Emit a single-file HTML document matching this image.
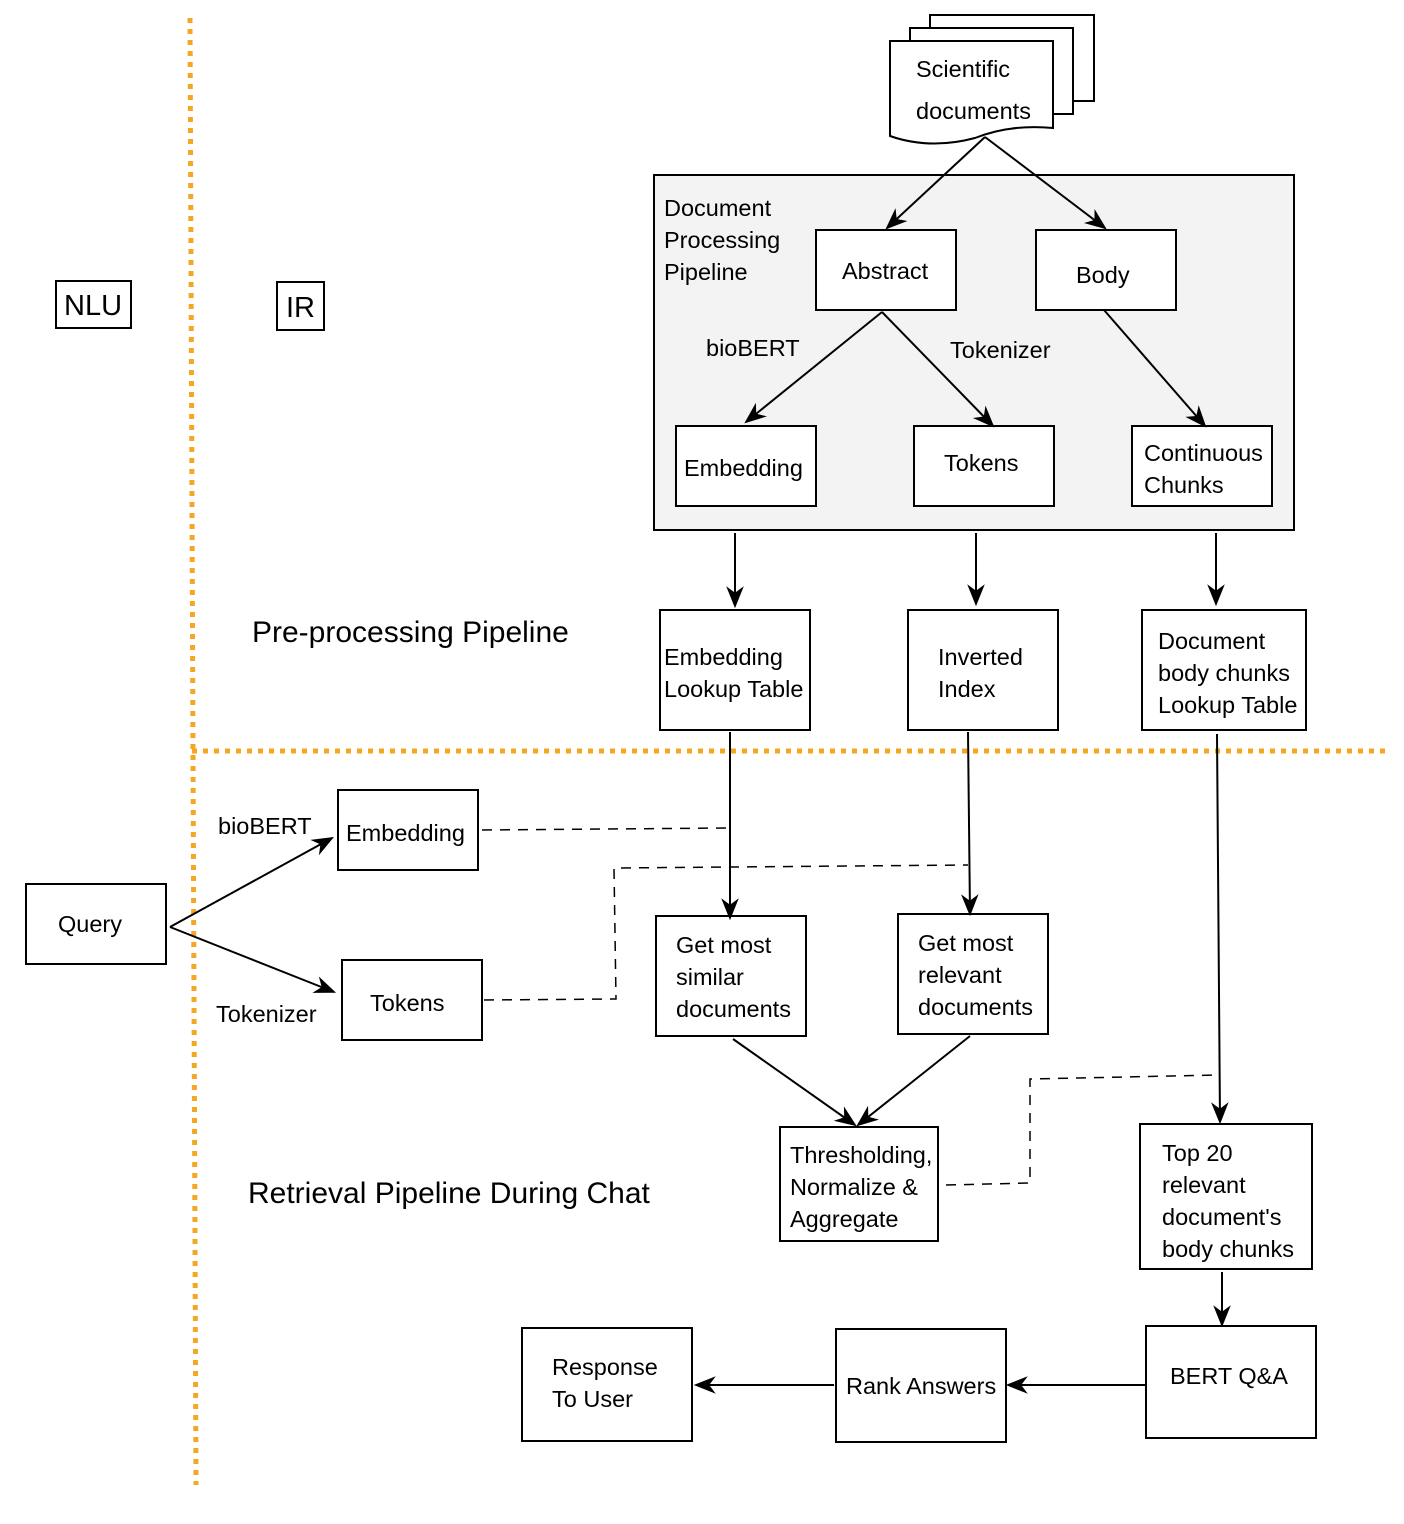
<!DOCTYPE html>
<html><head><meta charset="utf-8"><style>
html,body{margin:0;padding:0;background:#fff;}
svg{display:block;}
text{font-family:"Liberation Sans",Arial,sans-serif;font-size:23.5px;fill:#000;}
</style></head><body>
<svg width="1404" height="1524" viewBox="0 0 1404 1524" xmlns="http://www.w3.org/2000/svg">
<defs>
<marker id="b" viewBox="0 0 20 20" refX="18" refY="10" markerWidth="22" markerHeight="22" orient="auto" markerUnits="userSpaceOnUse">
<path d="M0,2 L20,10 L0,18 L6,10 Z" fill="#000"/>
</marker>
</defs>
<line x1="190" y1="18" x2="196" y2="1485" stroke="#F5A623" stroke-width="5" stroke-dasharray="5 6"/>
<line x1="192" y1="751" x2="1385" y2="751" stroke="#F5A623" stroke-width="5" stroke-dasharray="5 6"/>

<g fill="#fff" stroke="#000" stroke-width="2">
<rect x="56" y="281" width="75" height="47"/>
<rect x="277" y="282" width="47" height="48"/>
<rect x="930" y="15" width="164" height="86"/>
<rect x="910" y="28" width="163" height="86"/>
<path d="M890,41 L1053,41 L1053,128 Q1010,124 975,138 Q930,150 890,136 Z"/>
<rect x="654" y="175" width="640" height="355" fill="#f3f3f3"/>
<rect x="816" y="230" width="140" height="80"/>
<rect x="1036" y="230" width="140" height="80"/>
<rect x="676" y="426" width="140" height="80"/>
<rect x="914" y="426" width="140" height="80"/>
<rect x="1132" y="426" width="140" height="80"/>
<rect x="660" y="610" width="150" height="120"/>
<rect x="908" y="610" width="150" height="120"/>
<rect x="1142" y="610" width="164" height="120"/>
<rect x="26" y="884" width="140" height="80"/>
<rect x="338" y="790" width="140" height="80"/>
<rect x="342" y="960" width="140" height="80"/>
<rect x="656" y="916" width="150" height="120"/>
<rect x="898" y="914" width="150" height="120"/>
<rect x="780" y="1127" width="158" height="114"/>
<rect x="1140" y="1124" width="172" height="145"/>
<rect x="1146" y="1326" width="170" height="112"/>
<rect x="836" y="1329" width="170" height="113"/>
<rect x="522" y="1328" width="170" height="113"/>
</g>

<g stroke="#000" stroke-width="2" fill="none" marker-end="url(#b)">
<line x1="985" y1="137" x2="887" y2="228"/>
<line x1="985" y1="137" x2="1105" y2="228"/>
<line x1="882" y1="312" x2="746" y2="422"/>
<line x1="882" y1="312" x2="993" y2="426"/>
<line x1="1104" y1="310" x2="1205" y2="426"/>
<line x1="735" y1="533" x2="735" y2="606"/>
<line x1="976" y1="533" x2="976" y2="604"/>
<line x1="1216" y1="533" x2="1216" y2="604"/>
<line x1="170" y1="927" x2="332" y2="838"/>
<line x1="170" y1="927" x2="334" y2="992"/>
<line x1="730" y1="732" x2="730" y2="918"/>
<line x1="968" y1="732" x2="970" y2="914"/>
<line x1="733" y1="1039" x2="855" y2="1125"/>
<line x1="970" y1="1036" x2="858" y2="1125"/>
<line x1="1217" y1="734" x2="1220" y2="1122"/>
<line x1="1222" y1="1272" x2="1222" y2="1325"/>
<line x1="1146" y1="1385" x2="1008" y2="1385"/>
<line x1="834" y1="1385" x2="696" y2="1385"/>
</g>
<g stroke="#000" stroke-width="1.5" fill="none" stroke-dasharray="10 8">
<polyline points="482,830 730,828"/>
<polyline points="484,1000 616,999 614,868 968,865"/>
<polyline points="946,1185 1030,1183 1030,1079 1220,1075"/>
</g>

<text x="64" y="315" style="font-size:29px">NLU</text>
<text x="286" y="317" style="font-size:29px">IR</text>
<text x="916" y="77">Scientific</text>
<text x="916" y="119">documents</text>
<text x="664" y="216">Document</text>
<text x="664" y="248">Processing</text>
<text x="664" y="280">Pipeline</text>
<text x="842" y="279">Abstract</text>
<text x="1076" y="283">Body</text>
<text x="706" y="356">bioBERT</text>
<text x="950" y="358">Tokenizer</text>
<text x="684" y="476">Embedding</text>
<text x="944" y="471">Tokens</text>
<text x="1144" y="461">Continuous</text>
<text x="1144" y="493">Chunks</text>
<text x="252" y="642" style="font-size:30px">Pre-processing Pipeline</text>
<text x="664" y="665">Embedding</text>
<text x="664" y="697">Lookup Table</text>
<text x="938" y="665">Inverted</text>
<text x="938" y="697">Index</text>
<text x="1158" y="649">Document</text>
<text x="1158" y="681">body chunks</text>
<text x="1158" y="713">Lookup Table</text>
<text x="218" y="834">bioBERT</text>
<text x="346" y="841">Embedding</text>
<text x="58" y="932">Query</text>
<text x="370" y="1011">Tokens</text>
<text x="216" y="1022">Tokenizer</text>
<text x="676" y="953">Get most</text>
<text x="676" y="985">similar</text>
<text x="676" y="1017">documents</text>
<text x="918" y="951">Get most</text>
<text x="918" y="983">relevant</text>
<text x="918" y="1015">documents</text>
<text x="790" y="1163">Thresholding,</text>
<text x="790" y="1195">Normalize &amp;</text>
<text x="790" y="1227">Aggregate</text>
<text x="248" y="1203" style="font-size:30px">Retrieval Pipeline During Chat</text>
<text x="1162" y="1161">Top 20</text>
<text x="1162" y="1193">relevant</text>
<text x="1162" y="1225">document's</text>
<text x="1162" y="1257">body chunks</text>
<text x="1170" y="1384">BERT Q&amp;A</text>
<text x="846" y="1394">Rank Answers</text>
<text x="552" y="1375">Response</text>
<text x="552" y="1407">To User</text>
</svg>
</body></html>
